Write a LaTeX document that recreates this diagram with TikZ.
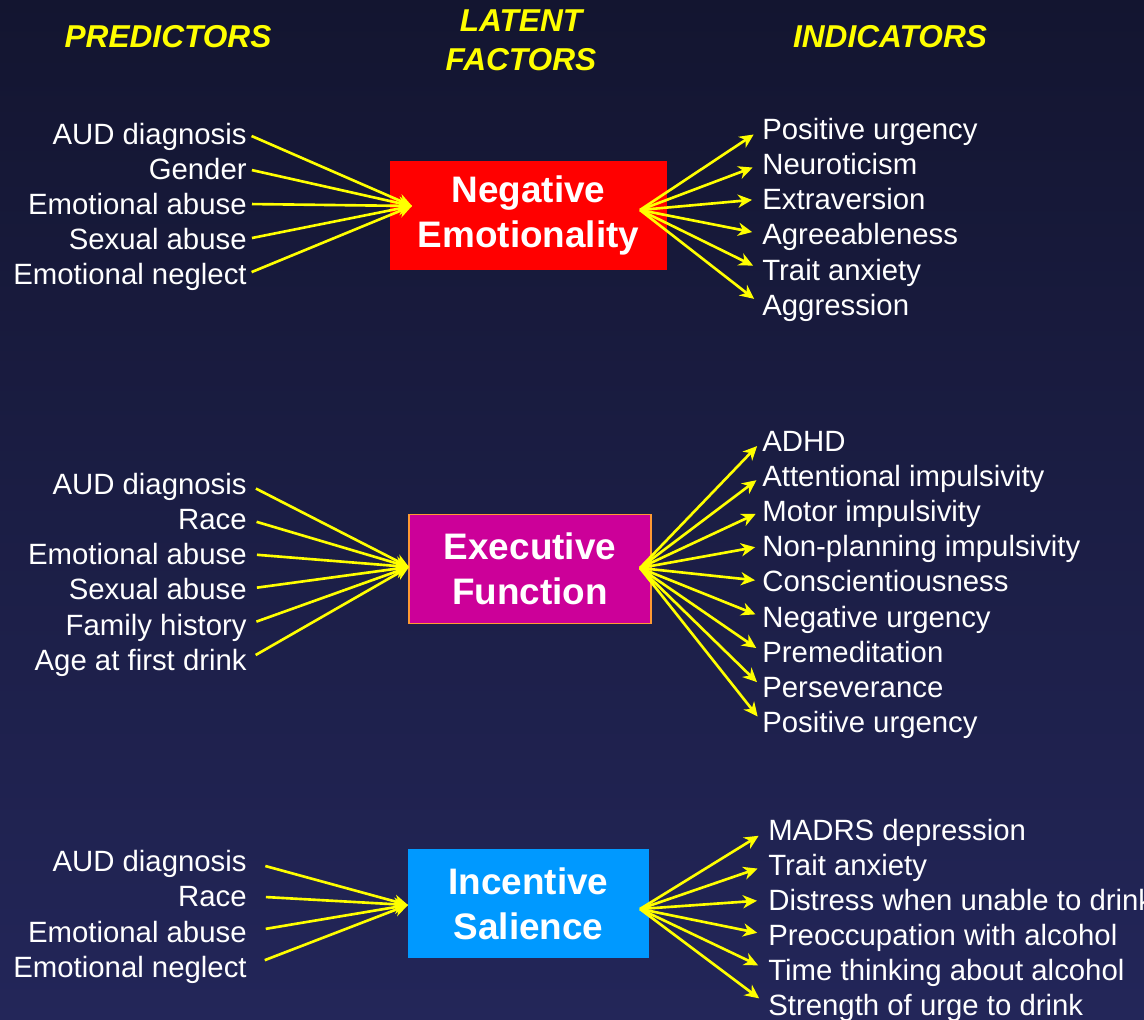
\documentclass[tikz,border=0pt]{standalone}
\usepackage{fontspec}
\setmainfont{Liberation Sans}
\usetikzlibrary{arrows.meta}
\definecolor{navytop}{HTML}{131530}
\definecolor{navybot}{HTML}{232659}
\definecolor{headyellow}{HTML}{FFFF00}
\definecolor{nered}{HTML}{FF0000}
\definecolor{efmagenta}{HTML}{CC0099}
\definecolor{eforange}{HTML}{FF9933}
\definecolor{isblue}{HTML}{0099FF}
\tikzset{
  heading/.style={text=headyellow,align=center,inner sep=0pt,
    font=\fontsize{18}{22.2}\selectfont\bfseries\itshape},
  factor/.style={minimum width=#1,minimum height=2.18cm,text=white,align=center,
    font=\fontsize{21}{25.6}\selectfont\bfseries},
  pred/.style={anchor=east,inner xsep=0pt,text=white,text height=2.45ex,text depth=.25ex,
    font=\fontsize{16.7}{20}\selectfont},
  ind/.style={pred,anchor=west},
  link/.style={draw=headyellow,line width=1.5pt,-{Stealth[length=8pt,width=7.5pt,inset=2.5pt]}}
}
\begin{document}
\begin{tikzpicture}[x=0.02cm,y=-0.02cm]
\shade[top color=navytop,bottom color=navybot] (0,0) rectangle (1144,1020) ;
\useasboundingbox (0,0) rectangle (1144,1020) ;
\node[heading] (h-pred) at (168,37) {PREDICTORS} ;
\node[heading] (h-lat) at (521,40) {LATENT\\FACTORS} ;
\node[heading] (h-ind) at (890,37) {INDICATORS} ;
\node[factor=5.54cm,fill=nered] (ne) at (528.5,215.5) {Negative\\Emotionality} ;
\node[factor=4.84cm,fill=efmagenta,draw=eforange,line width=0.8pt] (ef) at (530,569) {Executive\\Function} ;
\node[factor=4.82cm,fill=isblue] (is) at (528.5,903.5) {Incentive\\Salience} ;
\coordinate (ne-in) at (412,206) ; \coordinate (ne-out) at (640,210) ;
\coordinate (ef-in) at (409,567) ; \coordinate (ef-out) at (640,568) ;
\coordinate (is-in) at (408,905) ; \coordinate (is-out) at (640,909) ;
\foreach \y/\l [count=\i] in {134/AUD diagnosis, 169/Gender, 204/Emotional abuse, 239/Sexual abuse, 274/Emotional neglect}
  \node[pred] (ne-p\i) at (247,\y) {\l} ;
\foreach \y/\l [count=\i] in {129/Positive urgency, 164/Neuroticism, 199/Extraversion, 234/Agreeableness, 270/Trait anxiety, 305/Aggression}
  \node[ind] (ne-i\i) at (762,\y) {\l} ;
\foreach \y/\l [count=\i] in {484/AUD diagnosis, 519/Race, 554/Emotional abuse, 589/Sexual abuse, 625/Family history, 660/Age at first drink}
  \node[pred] (ef-p\i) at (247,\y) {\l} ;
\foreach \y/\l [count=\i] in {441/ADHD, 476/Attentional impulsivity, 511/Motor impulsivity, 546/Non-planning impulsivity, 581/Conscientiousness, 617/Negative urgency, 652/Premeditation, 687/Perseverance, 722/Positive urgency}
  \node[ind] (ef-i\i) at (762,\y) {\l} ;
\foreach \y/\l [count=\i] in {861/AUD diagnosis, 896/Race, 932/Emotional abuse, 967/Emotional neglect}
  \node[pred] (is-p\i) at (247,\y) {\l} ;
\foreach \y/\l [count=\i] in {830/MADRS depression, 865/Trait anxiety, 900/Distress when unable to drink, 935/Preoccupation with alcohol, 970/Time thinking about alcohol, 1005/Strength of urge to drink}
  \node[ind] (is-i\i) at (768,\y) {\l} ;
\foreach \i in {1,...,5}
  \draw[link,shorten <=0.1cm] (ne-p\i.east) -- (ne-in) ;
\foreach \i in {1,...,6}
  \draw[link,shorten >=0.2cm] (ne-out) -- (ne-i\i.west) ;
\foreach \i in {1,...,6}
  \draw[link,shorten <=0.2cm] (ef-p\i.east) -- (ef-in) ;
\foreach \i in {1,...,9}
  \draw[link,shorten >=0.14cm] (ef-out) -- (ef-i\i.west) ;
\foreach \i in {1,...,4}
  \draw[link,shorten <=0.38cm] (is-p\i.east) -- (is-in) ;
\foreach \i in {1,...,6}
  \draw[link,shorten >=0.22cm] (is-out) -- (is-i\i.west) ;
\end{tikzpicture}
\end{document}
